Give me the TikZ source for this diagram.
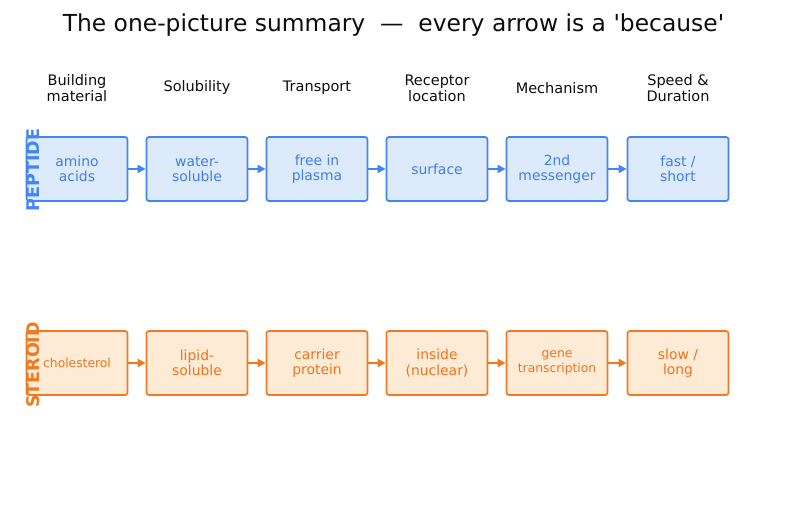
\documentclass[tikz,border=0pt]{standalone}
\usepackage{fontspec}
\newfontfamily\dv{DejaVu Sans}
\newfontfamily\dvb{DejaVu Sans Bold}
\usetikzlibrary{arrows.meta}
\definecolor{pedge}{HTML}{4285F4}
\definecolor{pfill}{HTML}{DCEAFC}
\definecolor{ptext}{HTML}{3D80E6}
\definecolor{sedge}{HTML}{F07A22}
\definecolor{sfill}{HTML}{FDEBD5}
\definecolor{stext}{HTML}{EC7420}
\tikzset{
  box/.style={rounded corners=2.5pt, line width=1.7pt, minimum width=101pt, minimum height=64pt, inner sep=0pt, align=center, font=\dv\fontsize{13.9}{15.5}\selectfont},
  pbox/.style={box, draw=pedge, fill=pfill, text=ptext},
  sbox/.style={box, draw=sedge, fill=sfill, text=stext},
  smalltext/.style={font=\dv\fontsize{12.3}{15}\selectfont},
  parrow/.style={draw=pedge, line width=2.3pt, -{Triangle[length=8pt,width=8pt]}},
  sarrow/.style={draw=sedge, line width=2.3pt, -{Triangle[length=8pt,width=8pt]}},
  head/.style={align=center, font=\dv\fontsize{14.5}{16}\selectfont, text=black!95},
  side/.style={rotate=90, font=\dvb\fontsize{17.5}{19}\selectfont, inner sep=0pt},
}
\begin{document}
\begin{tikzpicture}[x=1pt,y=-1pt]
\useasboundingbox (0,0) rectangle (787,510);
\node[font=\dv\fontsize{23.4}{25}\selectfont, text=black!95] (title) at (393.5,25) {The one-picture summary\ \ —\ \ every arrow is a 'because'};
% headers
\node[head] (h1) at (77,88) {Building\\material};
\node[head] (h2) at (197,88) {Solubility};
\node[head] (h3) at (317,88) {Transport};
\node[head] (h4) at (437,88) {Receptor\\location};
\node[head] (h5) at (557,88) {Mechanism};
\node[head] (h6) at (678,88) {Speed \&\\Duration};
% peptide row
\node[pbox] (p1) at (77,169) {amino\\acids};
\node[pbox] (p2) at (197,169) {water-\\soluble};
\node[pbox] (p3) at (317,169) {free in\\plasma};
\node[pbox] (p4) at (437,169) {surface};
\node[pbox] (p5) at (557,169) {2nd\\messenger};
\node[pbox] (p6) at (678,169) {fast /\\short};
\foreach \a/\b in {p1/p2,p2/p3,p3/p4,p4/p5,p5/p6} \draw[parrow] (\a) -- (\b);
\node[side, text=pedge] (lp) at (33,170) {PEPTIDE};
% steroid row
\node[sbox, smalltext] (s1) at (77,363) {cholesterol};
\node[sbox] (s2) at (197,363) {lipid-\\soluble};
\node[sbox] (s3) at (317,363) {carrier\\protein};
\node[sbox] (s4) at (437,363) {inside\\(nuclear)};
\node[sbox, smalltext] (s5) at (557,363) {gene\\transcription};
\node[sbox] (s6) at (678,363) {slow /\\long};
\foreach \a/\b in {s1/s2,s2/s3,s3/s4,s4/s5,s5/s6} \draw[sarrow] (\a) -- (\b);
\node[side, text=sedge] (ls) at (33,365) {STEROID};
\end{tikzpicture}
\end{document}
